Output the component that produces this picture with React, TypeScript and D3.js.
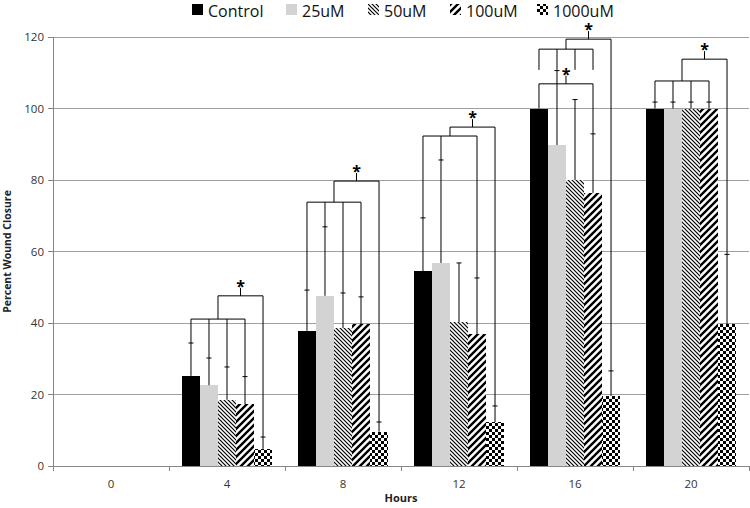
import React from "react";
import * as d3 from "d3";

const categories = ["0", "4", "8", "12", "16", "20"];
const seriesNames = ["Control", "25uM", "50uM", "100uM", "1000uM"];
const controlVals = [0, 25.2, 37.8, 54.5, 100, 100];
const uM25Vals = [0, 22.6, 47.6, 56.8, 89.8, 100];
const uM50Vals = [0, 18.5, 38.6, 40.3, 80, 100];
const uM100Vals = [0, 17.3, 39.7, 36.9, 76.4, 100];
const uM1000Vals = [0, 4.8, 9.6, 12.3, 19.6, 39.6];
const controlErr = [0, 9.2, 11.4, 14.9, 0, 1.8];
const uM25Err = [0, 7.6, 19.3, 28.8, 20.8, 1.8];
const uM50Err = [0, 9.2, 9.8, 16.5, 22.5, 1.8];
const uM100Err = [0, 7.7, 7.6, 15.7, 16.5, 1.8];
const uM1000Err = [0, 3.3, 2.7, 4.5, 7.0, 19.6];
const yTicks = [0, 20, 40, 60, 80, 100, 120];

// significance brackets: legs are series indices or ids of other brackets
type Bracket = { id: string; cat: string; level: number; legs: (number | string)[]; bottoms?: number[]; star?: boolean };
const brackets: Bracket[] = [
  { id: "a4", cat: "4", level: 41.1, legs: [0, 1, 2, 3] },
  { id: "b4", cat: "4", level: 47.6, legs: ["a4", 4], star: true },
  { id: "a8", cat: "8", level: 73.8, legs: [0, 1, 2, 3] },
  { id: "b8", cat: "8", level: 79.7, legs: ["a8", 4], star: true },
  { id: "a12", cat: "12", level: 92.3, legs: [0, 1, 3] },
  { id: "b12", cat: "12", level: 94.8, legs: ["a12", 4], star: true },
  { id: "a16", cat: "16", level: 116.6, legs: [0, 1, 2, 3], bottoms: [110.8, 110.8, 110.8, 110.8] },
  { id: "b16", cat: "16", level: 119.4, legs: ["a16", 4], star: true },
  { id: "c16", cat: "16", level: 106.9, legs: [0, 3], star: true },
  { id: "a20", cat: "20", level: 107.7, legs: [0, 1, 2, 3] },
  { id: "b20", cat: "20", level: 113.8, legs: ["a20", 4], star: true },
];

const values = [controlVals, uM25Vals, uM50Vals, uM100Vals, uM1000Vals];
const errors = [controlErr, uM25Err, uM50Err, uM100Err, uM1000Err];
const fills = ["#000000", "#d3d3d3", "url(#p50)", "url(#p100)", "url(#p1000)"];
const legendX = [192, 286, 368, 450, 537];

const W = 750, H = 508;
const margin = { left: 53, right: 1, top: 37, bottom: 42 };

export default function App() {
  const x = d3.scaleBand().domain(categories).range([margin.left, W - margin.right]).paddingInner(0).paddingOuter(0);
  const x1 = d3.scaleBand().domain(seriesNames).range([0, x.bandwidth()]).paddingInner(0).paddingOuter(0.72);
  const y = d3.scaleLinear().domain([0, 120]).range([H - margin.bottom, margin.top]);
  const bw = x1.bandwidth();
  const cx = (cat: string, s: number) => (x(cat) as number) + (x1(seriesNames[s]) as number) + bw / 2;
  const catIdx = (cat: string) => categories.indexOf(cat);

  const resolved: Record<string, { xs: number[]; mid: number; level: number }> = {};
  const bracketEls: React.ReactNode[] = [];
  brackets.forEach((b) => {
    const ci = catIdx(b.cat);
    const legs = b.legs.map((l, i) => {
      if (typeof l === "number") {
        const bottom = b.bottoms ? b.bottoms[i] : values[l][ci] + errors[l][ci];
        return { x: cx(b.cat, l), y: y(bottom) };
      }
      const r = resolved[l];
      return { x: r.mid, y: y(r.level) };
    });
    const xs = legs.map((l) => l.x);
    const x0 = d3.min(xs) as number, xN = d3.max(xs) as number;
    const mid = (x0 + xN) / 2;
    resolved[b.id] = { xs, mid, level: b.level };
    const ly = y(b.level);
    bracketEls.push(
      <g key={b.id} stroke="#000" strokeWidth={1} fill="none">
        <line x1={x0} x2={xN} y1={ly} y2={ly} />
        {legs.map((l, i) => (
          <line key={i} x1={l.x} x2={l.x} y1={ly} y2={l.y} />
        ))}
        {b.star && <line x1={mid} x2={mid} y1={ly} y2={ly - 8} />}
      </g>
    );
    if (b.star) {
      bracketEls.push(
        <text key={b.id + "s"} x={mid} y={ly - 4} textAnchor="middle" fontFamily="Open Sans" fontSize={16} fontWeight="bold" fill="#000">*</text>
      );
    }
  });

  return (
    <svg width={W} height={H} style={{ position: "fixed", left: 0, top: 0, background: "#fff" }}>
      <defs>
        <pattern id="p50" patternUnits="userSpaceOnUse" width={4} height={4}>
          <rect width={4} height={4} fill="#fff" />
          <path d="M-1,-1 L5,5 M-1,3 L1,5 M3,-1 L5,1" stroke="#000" strokeWidth={1.2} />
        </pattern>
        <pattern id="p100" patternUnits="userSpaceOnUse" width={7} height={7}>
          <rect width={7} height={7} fill="#fff" />
          <path d="M-1,8 L8,-1 M-2,2 L2,-2 M5,9 L9,5" stroke="#000" strokeWidth={2.4} />
        </pattern>
        <pattern id="p1000" patternUnits="userSpaceOnUse" width={6} height={6}>
          <rect width={6} height={6} fill="#fff" />
          <rect width={3} height={3} fill="#000" />
          <rect x={3} y={3} width={3} height={3} fill="#000" />
        </pattern>
      </defs>

      {/* gridlines */}
      <g shapeRendering="crispEdges">
        {yTicks.map((t) => (
          <g key={t}>
            {t > 0 && <line x1={margin.left} x2={W - margin.right} y1={y(t)} y2={y(t)} stroke="#a0a0a0" />}
            <line x1={margin.left - 5} x2={margin.left} y1={y(t)} y2={y(t)} stroke="#868686" />
          </g>
        ))}
      </g>
      {yTicks.map((t) => (
        <text key={t} x={margin.left - 9} y={y(t) + 4} textAnchor="end" fontFamily="Open Sans" fontSize={11.5} fill="#333">{t}</text>
      ))}

      {/* bars */}
      {categories.map((c, ci) => (
        <g key={c}>
          {seriesNames.map((s, si) => {
            const v = values[si][ci];
            if (v <= 0) return null;
            return (
              <rect key={s} x={cx(c, si) - bw / 2} width={bw} y={y(v)} height={y(0) - y(v)} fill={fills[si]} shapeRendering="crispEdges" />
            );
          })}
        </g>
      ))}

      {/* error bars */}
      {categories.map((c, ci) => (
        <g key={c} stroke="#000" strokeWidth={1}>
          {seriesNames.map((s, si) => {
            const v = values[si][ci], e = errors[si][ci];
            if (v <= 0 || e <= 0) return null;
            const xc = cx(c, si);
            return (
              <g key={s}>
                <line x1={xc} x2={xc} y1={y(v)} y2={y(v + e)} />
                <line x1={xc - 2.5} x2={xc + 2.5} y1={y(v + e)} y2={y(v + e)} />
              </g>
            );
          })}
        </g>
      ))}

      {bracketEls}

      {/* axes */}
      <g shapeRendering="crispEdges" stroke="#868686">
        <line x1={margin.left} x2={margin.left} y1={y(120)} y2={y(0)} />
        <line x1={margin.left} x2={W - margin.right} y1={y(0)} y2={y(0)} />
        {categories.map((c) => (
          <line key={c} x1={x(c) as number} x2={x(c) as number} y1={y(0)} y2={y(0) + 5} />
        ))}
        <line x1={W - margin.right} x2={W - margin.right} y1={y(0)} y2={y(0) + 5} />
      </g>
      {categories.map((c) => (
        <text key={c} x={(x(c) as number) + x.bandwidth() / 2} y={y(0) + 22} textAnchor="middle" fontFamily="Open Sans" fontSize={11.5} fill="#333">{c}</text>
      ))}
      <text x={(margin.left + W - margin.right) / 2} y={502} textAnchor="middle" fontFamily="Open Sans" fontSize={11} fontWeight="bold" fill="#222">Hours</text>
      <text transform={`translate(11,${(y(0) + y(120)) / 2}) rotate(-90)`} textAnchor="middle" fontFamily="Open Sans" fontSize={10.5} fontWeight="bold" fill="#222">Percent Wound Closure</text>

      {/* legend */}
      {seriesNames.map((s, si) => (
        <g key={s}>
          <rect x={legendX[si]} y={4} width={11} height={11} fill={fills[si]} />
          <text x={legendX[si] + 16} y={16.5} fontFamily="Open Sans" fontSize={16} fill="#111">{s}</text>
        </g>
      ))}
    </svg>
  );
}
